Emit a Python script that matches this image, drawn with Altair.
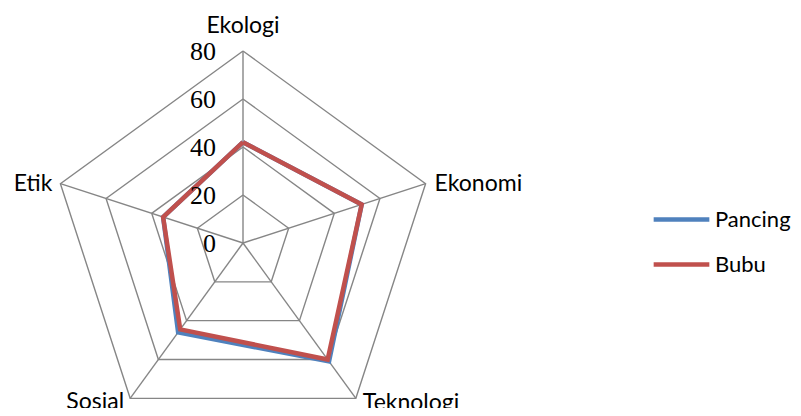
import altair as alt
import pandas as pd

categories = ["Ekologi", "Ekonomi", "Teknologi", "Sosial", "Etik"]
pancing = [42, 52, 61, 46, 35]
bubu = [42, 52, 60, 44.5, 35]
levels = [0, 20, 40, 60, 80]
series_names = ["Pancing", "Bubu"]
series_colors = ["#4F81BD", "#C0504D"]

N = len(categories)

rows = []
for name, vals in zip(series_names, [pancing, bubu]):
    for i in range(N + 1):
        rows.append({"series": name, "idx": i, "value": vals[i % N]})
series_df = pd.DataFrame(rows)

grid_rows = []
for lv in levels[1:]:
    for i in range(N + 1):
        grid_rows.append({"level": lv, "idx": i})
grid_df = pd.DataFrame(grid_rows)

spoke_df = pd.DataFrame({"idx": list(range(N)), "value": [levels[-1]] * N})
cat_df = pd.DataFrame({"idx": list(range(N)), "cat": categories, "value": [levels[-1]] * N})
tick_df = pd.DataFrame({"level": levels})

ANG = "PI/2 - 2*PI*datum.idx/5"
xs = alt.Scale(domain=[-97.92, 229.17], nice=False, zero=False)
ys = alt.Scale(domain=[-68.75, 97.92], nice=False, zero=False)

def X(field):
    return alt.X(field, type="quantitative", scale=xs, axis=None)

def Y(field):
    return alt.Y(field, type="quantitative", scale=ys, axis=None)

grid = alt.Chart(grid_df).transform_calculate(
    a=ANG
).transform_calculate(
    px="datum.level*cos(datum.a)", py="datum.level*sin(datum.a)"
).mark_line(color="#868686", strokeWidth=1.4).encode(
    x=X("px"), y=Y("py"), order="idx:Q", detail="level:N"
)

spokes = alt.Chart(spoke_df).transform_calculate(
    a=ANG
).transform_calculate(
    px="datum.value*cos(datum.a)", py="datum.value*sin(datum.a)", z="0"
).mark_rule(color="#868686", strokeWidth=1.4).encode(
    x=X("px"), y=Y("py"), x2="z:Q", y2="z:Q"
)

color = alt.Color(
    "series:N",
    scale=alt.Scale(domain=series_names, range=series_colors),
    legend=alt.Legend(
        title=None, orient="none", legendX=643, legendY=181,
        symbolType="stroke", symbolSize=3100, symbolStrokeWidth=4.5,
        labelFont="Lato", labelFontSize=22, labelColor="#000000",
        labelOffset=3, rowPadding=3
    ),
)

def series_layer(name):
    return alt.Chart(series_df).transform_filter(
        alt.datum.series == name
    ).transform_calculate(
        a=ANG
    ).transform_calculate(
        px="datum.value*cos(datum.a)", py="datum.value*sin(datum.a)"
    ).mark_line(strokeWidth=4.5, strokeJoin="miter").encode(
        x=X("px"), y=Y("py"), order="idx:Q", color=color
    )

ticks = alt.Chart(tick_df).transform_calculate(z="0").mark_text(
    align="right", baseline="middle", dx=-27, dy=1,
    font="Liberation Serif, Times New Roman, serif", fontSize=26, color="#000000"
).encode(x=X("z"), y=Y("level"), text="level:Q")

def cat_layer(cat, align, baseline, dx, dy):
    return alt.Chart(cat_df).transform_filter(
        alt.datum.cat == cat
    ).transform_calculate(
        a=ANG
    ).transform_calculate(
        px="datum.value*cos(datum.a)", py="datum.value*sin(datum.a)"
    ).mark_text(
        align=align, baseline=baseline, dx=dx, dy=dy, font="Lato", fontSize=23, color="#000000"
    ).encode(x=X("px"), y=Y("py"), text="cat:N")

labels = [
    cat_layer("Ekologi", "center", "bottom", 0, -13),
    cat_layer("Ekonomi", "left", "middle", 9, 0),
    cat_layer("Teknologi", "left", "top", 7, -6),
    cat_layer("Sosial", "right", "top", -6, -7),
    cat_layer("Etik", "right", "middle", -8, 0),
]

chart = alt.layer(
    grid, spokes, series_layer("Pancing"), series_layer("Bubu"), ticks, *labels
).properties(
    width=785, height=400, padding=0, autosize=alt.AutoSizeParams(type="none")
).configure_view(stroke=None)

chart.save("out.html", embed_options={"renderer": "svg", "actions": False})
